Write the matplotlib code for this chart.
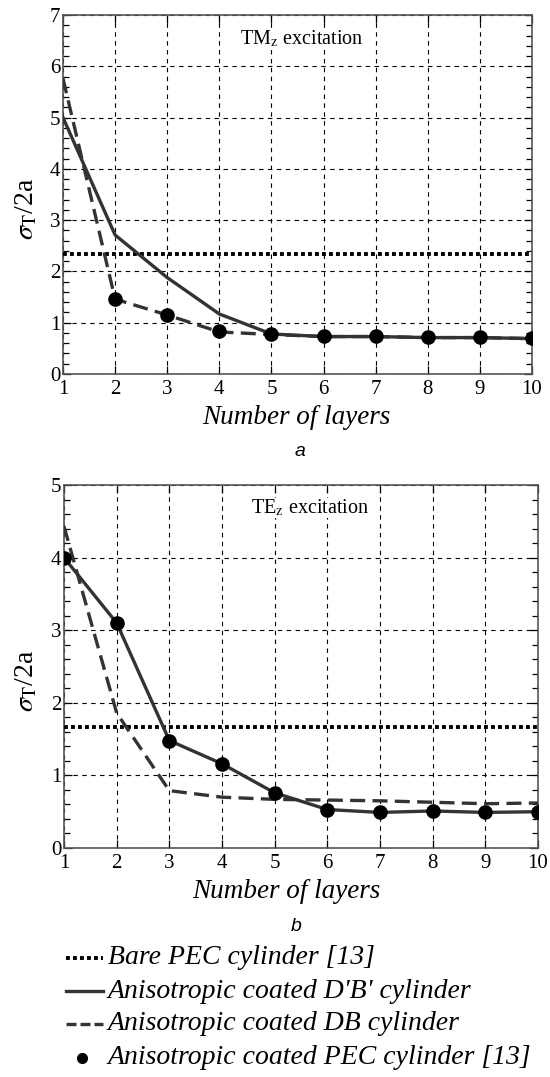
import numpy as np
import matplotlib
matplotlib.use("Agg")
import matplotlib.pyplot as plt
from matplotlib.ticker import MultipleLocator
from matplotlib.lines import Line2D

plt.rcParams['font.family'] = ['Liberation Serif', 'DejaVu Serif']
plt.rcParams['mathtext.fontset'] = 'stix'

# Donnees
layers = [1, 2, 3, 4, 5, 6, 7, 8, 9, 10]

# (a) excitation TMz
tm_bare = 2.34
tm_dbp = [5.0, 2.71, 1.88, 1.17, 0.78, 0.73, 0.73, 0.71, 0.71, 0.69]
tm_db = [5.76, 1.46, 1.15, 0.82, 0.77, 0.73, 0.73, 0.71, 0.71, 0.69]
tm_pec_x = [2, 3, 4, 5, 6, 7, 8, 9, 10]
tm_pec = [1.46, 1.15, 0.83, 0.78, 0.74, 0.74, 0.72, 0.72, 0.70]

# (b) excitation TEz
te_bare = 1.66
te_dbp = [4.0, 3.10, 1.48, 1.16, 0.76, 0.53, 0.49, 0.51, 0.49, 0.50]
te_db = [4.43, 1.86, 0.79, 0.70, 0.67, 0.66, 0.65, 0.63, 0.61, 0.62]
te_pec_x = layers
te_pec = [4.0, 3.10, 1.48, 1.16, 0.76, 0.53, 0.49, 0.51, 0.49, 0.50]

labels = ['Bare PEC cylinder [13]',
          "Anisotropic coated D'B' cylinder",
          'Anisotropic coated DB cylinder',
          'Anisotropic coated PEC cylinder [13]']

DARK = '#333333'
DOT = (0, (1, 0.8))
DASH = (0, (4.5, 2.2))

W, H = 550, 1077


def draw_panel(ax, bare, dbp, db, pec_x, pec, ymax, title, title_xy, sub, sub_xy, xlab_x):
    ax.axhline(bare, color='black', lw=2.8, ls=DOT, zorder=3)
    ax.plot(layers, dbp, color=DARK, lw=2.4, zorder=4)
    ax.plot(layers, db, color=DARK, lw=2.4, ls=DASH, zorder=4)
    ax.plot(pec_x, pec, 'o', color='black', ms=9.5, zorder=5)
    ax.set_xlim(1, 10)
    ax.set_ylim(0, ymax)
    ax.set_xticks(layers)
    ax.yaxis.set_major_locator(MultipleLocator(1))
    ax.yaxis.set_minor_locator(MultipleLocator(0.2))
    ax.tick_params(direction='in', top=True, right=True, labelsize=15,
                   length=6, width=0.9)
    ax.tick_params(axis='x', pad=4.5)
    ax.tick_params(axis='y', pad=2)
    ax.tick_params(which='minor', direction='in', right=True, left=True,
                   length=4, width=0.9)
    ax.grid(True, color='black', ls=(0, (4, 4)), lw=0.8)
    for s in ax.spines.values():
        s.set_color('#555555')
        s.set_linewidth(1.2)
    ax.set_xlabel('Number of layers', fontsize=19.5, style='italic')
    ax.xaxis.set_label_coords(xlab_x, -0.12)
    ax.xaxis.label.set_va('center')
    ax.set_ylabel(r'$\sigma_{\mathrm{T}}$/2a', fontsize=20)
    ax.yaxis.set_label_coords(-0.078, 0.46)
    ax.yaxis.label.set_va('center')
    ax.text(title_xy[0], title_xy[1], title, transform=ax.transAxes,
            ha='center', va='center', fontsize=14.5,
            bbox=dict(facecolor='white', edgecolor='none', pad=0))
    ax.text(sub_xy[0], sub_xy[1], sub, transform=ax.transAxes, ha='center',
            va='center', fontsize=14, style='italic', family='Liberation Sans')


fig = plt.figure(figsize=(W / 100, H / 100), dpi=100)
ax1 = fig.add_axes([63 / W, 1 - 374 / H, 469 / W, 359 / H])
ax2 = fig.add_axes([64 / W, 1 - 848 / H, 474 / W, 363 / H])

draw_panel(ax1, tm_bare, tm_dbp, tm_db, tm_pec_x, tm_pec, 7,
           r'TM$_{\mathrm{z}}$ excitation', (0.51, 0.933), 'a', (0.505, -0.217), 0.497)
draw_panel(ax2, te_bare, te_dbp, te_db, te_pec_x, te_pec, 5,
           r'TE$_{\mathrm{z}}$ excitation', (0.52, 0.937), 'b', (0.49, -0.2176), 0.468)

# Legende dessinee a la main, en pixels de la figure
styles = [dict(color='black', lw=2.8, ls=DOT),
          dict(color=DARK, lw=2.4),
          dict(color=DARK, lw=2.4, ls=(0, (3, 1.2))),
          None]
rows_y = [958, 991, 1024, 1058]
for lab, st, ry in zip(labels, styles, rows_y):
    yf = 1 - ry / H
    if st is None:
        fig.add_artist(Line2D([82 / W], [yf], marker='o', color='black', ms=7, ls='none'))
    else:
        fig.add_artist(Line2D([66 / W, 103 / W], [yf, yf], **st))
    fig.text(108 / W, yf, lab, ha='left', va='center', fontsize=20, style='italic')

fig.savefig('out.png', dpi=100)
